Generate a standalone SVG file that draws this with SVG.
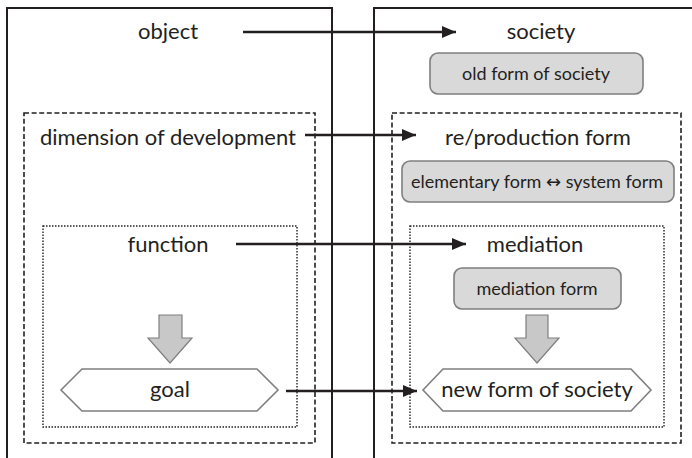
<svg xmlns="http://www.w3.org/2000/svg" width="692" height="458" viewBox="0 0 692 458">
  <defs>
    <marker id="head" viewBox="0 0 14 12" refX="14" refY="6" markerWidth="14" markerHeight="12" markerUnits="userSpaceOnUse" orient="auto">
      <path d="M0,0 L14,6 L0,12 Z" fill="#231f20"/>
    </marker>
  </defs>
  <style>
    .outer { fill: none; stroke: #231f20; stroke-width: 2; }
    .dash { fill: none; stroke: #231f20; stroke-width: 1.6; stroke-dasharray: 5 2.6; }
    .dot { fill: none; stroke: #231f20; stroke-width: 1.4; stroke-dasharray: 1.5 1.5; }
    .lbl { font-family: Lato, "Open Sans", "Liberation Sans", sans-serif; font-size: 22px; fill: #231f20; text-anchor: middle; }
    .small { font-family: Lato, "Open Sans", "Liberation Sans", sans-serif; font-size: 18px; fill: #231f20; text-anchor: middle; }
    .arr { font-family: "DejaVu Sans", sans-serif; font-size: 18px; }
    .pill { fill: #d9d9d9; stroke: #7f7f7f; stroke-width: 1.6; }
    .hex { fill: #ffffff; stroke: #7f7f7f; stroke-width: 1.6; }
    .down { fill: #c8c8c8; stroke: #7f7f7f; stroke-width: 1.2; }
    .link { fill: none; stroke: #231f20; stroke-width: 2.4; marker-end: url(#head); }
  </style>
  <rect width="692" height="458" fill="#ffffff"/>

  <!-- left column: object -->
  <g id="object">
    <rect class="outer" x="7" y="8" width="325" height="460"/>
    <text class="lbl" x="168" y="39">object</text>
  </g>
  <g id="dimension">
    <rect class="dash" x="24" y="113" width="291" height="330"/>
    <text class="lbl" x="168" y="145">dimension of development</text>
  </g>
  <g id="function">
    <rect class="dot" x="43" y="226" width="254" height="201"/>
    <text class="lbl" x="168" y="252">function</text>
    <path class="down" d="M159,315 H182 V338 H192 L170,363 L148,338 H159 Z"/>
  </g>
  <g id="goal">
    <path class="hex" d="M61,390 L82,369 H257 L278,390 L257,411 H82 Z"/>
    <text class="lbl" x="170" y="397">goal</text>
  </g>

  <!-- right column: society -->
  <g id="society">
    <rect class="outer" x="374" y="8" width="330" height="460"/>
    <text class="lbl" x="541" y="39">society</text>
    <rect class="pill" x="430" y="53" width="213" height="41" rx="8"/>
    <text class="small" x="536" y="80">old form of society</text>
  </g>
  <g id="reproduction">
    <rect class="dash" x="392" y="113" width="289" height="330"/>
    <text class="lbl" x="538" y="145">re/production form</text>
    <rect class="pill" x="402" y="161" width="272" height="41" rx="8"/>
    <text class="small" x="537" y="188">elementary form <tspan class="arr">↔</tspan> system form</text>
  </g>
  <g id="mediation">
    <rect class="dot" x="410" y="226" width="254" height="201"/>
    <text class="lbl" x="535" y="252">mediation</text>
    <rect class="pill" x="454" y="268" width="167" height="41" rx="8"/>
    <text class="small" x="537" y="295">mediation form</text>
    <path class="down" d="M526,315 H548 V338 H559 L537,363 L515,338 H526 Z"/>
  </g>
  <g id="new-form">
    <path class="hex" d="M423,390 L443,369 H631 L651,390 L631,411 H443 Z"/>
    <text class="lbl" x="537" y="397">new form of society</text>
  </g>

  <!-- correspondences between the two columns -->
  <g id="connectors">
    <line class="link" x1="243" y1="32" x2="456" y2="32"/>
    <line class="link" x1="305" y1="135" x2="416" y2="135"/>
    <line class="link" x1="236" y1="244" x2="466" y2="244"/>
    <line class="link" x1="286" y1="391" x2="417" y2="391"/>
  </g>
</svg>
